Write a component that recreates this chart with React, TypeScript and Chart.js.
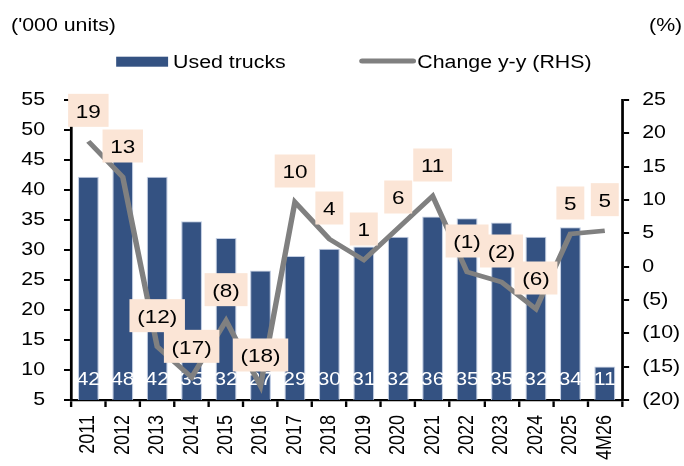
import React, { useEffect, useRef } from 'react';
import { Chart, registerables } from 'chart.js';

Chart.register(...registerables);

// ---------- data ----------
const categories = ['2011', '2012', '2013', '2014', '2015', '2016', '2017', '2018', '2019', '2020', '2021', '2022', '2023', '2024', '2025', '4M26'];
const usedTrucks = [42.2, 48, 42.2, 34.8, 32, 26.6, 29, 30.2, 30.6, 32.2, 35.6, 35.3, 34.6, 32.2, 33.8, 10.6];
const changeYY = [18.8, 13.45, -12, -16.6, -8.1, -17.9, 9.7, 4.15, 1.0, 5.8, 10.6, -0.8, -2.3, -6.35, 4.9, 5.4];
const leftAxisRange = [5, 55];
const rightAxisRange = [-20, 25];
const tickStep = 5;
const seriesNames = ['Used trucks', 'Change y-y (RHS)'];
const leftUnit = "('000 units)";
const rightUnit = '(%)';

// ---------- geometry / style ----------
const W_PX = 684;
const H = 466;
const W_LOG = 577;
const SX = W_PX / W_LOG;
const FONT = '"Liberation Sans", Arial, Helvetica, sans-serif';
const BAR_COLOR = '#345282';
const LINE_COLOR = '#808080';
const BOX_COLOR = '#FBE5D6';

const fmtPct = (v: number) => {
  const r = Math.round(v);
  return r < 0 ? `(${Math.abs(r)})` : `${r}`;
};

const stretchPlugin = {
  id: 'stretch',
  beforeDraw(chart: any) {
    const c = chart.canvas as HTMLCanvasElement;
    if (c.width !== W_PX || c.height !== H) {
      c.width = W_PX;
      c.height = H;
    }
    chart.ctx.setTransform(SX, 0, 0, 1, 0, 0);
  },
};

const labelsPlugin = {
  id: 'customLabels',
  afterDatasetDraw(chart: any, args: any) {
    if (args.index !== 0) return;
    const ctx = chart.ctx as CanvasRenderingContext2D;
    const meta = chart.getDatasetMeta(0);
    const base = chart.scales.y.getPixelForValue(leftAxisRange[0]);
    ctx.save();
    ctx.font = `18px ${FONT}`;
    ctx.fillStyle = '#ffffff';
    ctx.textAlign = 'center';
    ctx.textBaseline = 'alphabetic';
    meta.data.forEach((el: any, i: number) => {
      ctx.fillText(String(Math.round(usedTrucks[i])), el.x, base - 15);
    });
    ctx.restore();
  },
  afterDraw(chart: any) {
    const ctx = chart.ctx as CanvasRenderingContext2D;
    ctx.save();
    // unit titles
    ctx.font = `18px ${FONT}`;
    ctx.fillStyle = '#000';
    ctx.textBaseline = 'alphabetic';
    ctx.textAlign = 'left';
    ctx.fillText(leftUnit, 9.3, 31);
    ctx.textAlign = 'right';
    ctx.fillText(rightUnit, 575.5, 31);

    // legend
    ctx.fillStyle = BAR_COLOR;
    ctx.fillRect(98, 56.7, 43.8, 10);
    ctx.fillStyle = '#000';
    ctx.textAlign = 'left';
    ctx.fillText(seriesNames[0], 146, 68);
    ctx.strokeStyle = LINE_COLOR;
    ctx.lineWidth = 5;
    ctx.lineCap = 'round';
    ctx.beginPath();
    ctx.moveTo(305.5, 61);
    ctx.lineTo(348.5, 61);
    ctx.stroke();
    ctx.fillText(seriesNames[1], 352, 68);

    // line data labels
    const meta = chart.getDatasetMeta(1);
    const fs = 19;
    ctx.font = `${fs}px ${FONT}`;
    ctx.textAlign = 'center';
    meta.data.forEach((pt: any, i: number) => {
      const txt = fmtPct(changeYY[i]);
      const tw = ctx.measureText(txt).width;
      const bw = tw + 13;
      const bh = 33;
      const cx = pt.x;
      const cy = pt.y - 31;
      ctx.fillStyle = BOX_COLOR;
      ctx.fillRect(cx - bw / 2, cy - bh / 2, bw, bh);
      ctx.fillStyle = '#000';
      ctx.fillText(txt, cx, cy + 0.716 * fs / 2 + 0.5);
    });
    ctx.restore();
  },
};

export default function App() {
  const canvasRef = useRef<HTMLCanvasElement | null>(null);

  useEffect(() => {
    const canvas = canvasRef.current;
    if (!canvas) return;
    Chart.defaults.font.family = FONT;
    Chart.defaults.font.size = 18;
    Chart.defaults.color = '#000';

    const chart = new Chart(canvas, {
      type: 'bar',
      data: {
        labels: categories,
        datasets: [
          {
            type: 'bar',
            label: seriesNames[0],
            data: usedTrucks,
            backgroundColor: BAR_COLOR,
            borderColor: 'rgba(190,202,224,0.9)',
            borderWidth: 1,
            barPercentage: 0.61,
            categoryPercentage: 1,
            yAxisID: 'y',
            order: 2,
          },
          {
            type: 'line',
            label: seriesNames[1],
            data: changeYY,
            borderColor: LINE_COLOR,
            borderWidth: 4.6,
            pointRadius: 0,
            tension: 0,
            fill: false,
            yAxisID: 'y1',
            order: 1,
          } as any,
        ],
      },
      options: {
        responsive: false,
        animation: false,
        devicePixelRatio: 1,
        layout: { padding: { top: 100, left: 0, right: 0, bottom: 0 } },
        plugins: {
          legend: { display: false },
          tooltip: { enabled: false },
          title: { display: false },
        },
        scales: {
          x: {
            type: 'category',
            offset: true,
            grid: { offset: true, drawOnChartArea: false, drawTicks: true, tickLength: 7, color: '#000', lineWidth: 2 },
            border: { display: true, color: '#000', width: 2.3 },
            ticks: { autoSkip: false, maxRotation: 90, minRotation: 90, padding: 8, color: '#000', font: { size: 18, family: FONT } },
            afterFit: (s: any) => { s.height = 66; },
          },
          y: {
            type: 'linear',
            position: 'left',
            min: leftAxisRange[0],
            max: leftAxisRange[1],
            ticks: { stepSize: tickStep, padding: 16, color: '#000', font: { size: 18, family: FONT } },
            grid: { drawOnChartArea: false, drawTicks: true, tickLength: 6, color: '#000', lineWidth: 2 },
            border: { display: true, color: '#000', width: 2.3 },
            afterFit: (s: any) => { s.width = 60; },
          },
          y1: {
            type: 'linear',
            position: 'right',
            min: rightAxisRange[0],
            max: rightAxisRange[1],
            ticks: {
              stepSize: tickStep,
              padding: 11,
              color: '#000',
              font: { size: 18, family: FONT },
              callback: (v: any) => (Number(v) < 0 ? `(${Math.abs(Number(v))})` : `${v}`),
            },
            grid: { drawOnChartArea: false, drawTicks: true, tickLength: 6, color: '#000', lineWidth: 2 },
            border: { display: true, color: '#000', width: 2.3 },
            afterFit: (s: any) => { s.width = W_LOG - 524.7; },
          },
        },
      } as any,
      plugins: [stretchPlugin, labelsPlugin],
    });

    return () => {
      chart.destroy();
    };
  }, []);

  return (
    <div style={{ position: 'absolute', left: 0, top: 0, width: W_PX, height: H, background: '#fff' }}>
      <canvas ref={canvasRef} width={W_LOG} height={H} style={{ width: `${W_PX}px`, height: `${H}px`, display: 'block' }} />
    </div>
  );
}
